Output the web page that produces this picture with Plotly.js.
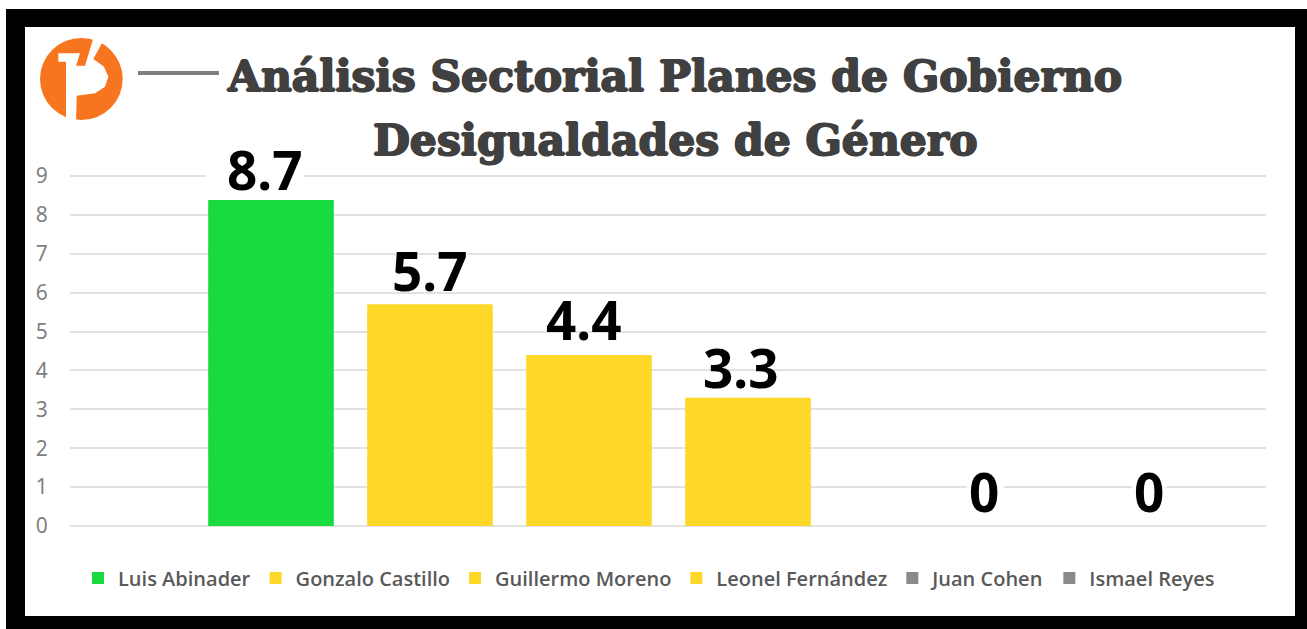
<!DOCTYPE html>
<html>
<head>
<meta charset="utf-8">
<script src="https://cdn.plot.ly/plotly-3.0.1.min.js"></script>
<style>html,body{margin:0;padding:0;background:#fff}#chart{width:1307px;height:629px}</style>
</head>
<body>
<div id="chart"></div>
<script>
const candidates = ['Luis Abinader','Gonzalo Castillo','Guillermo Moreno','Leonel Fernández','Juan Cohen','Ismael Reyes'];
const barValues = [8.38,5.7,4.4,3.3,0,0];
const valueLabels = ['8.7','5.7','4.4','3.3','0','0'];
const barColors = ['#17db3f','#fed829','#fed829','#fed829','#8a8a8a','#8a8a8a'];
const titleLines = ['Análisis Sectorial Planes de Gobierno','Desigualdades de Género'];
const yTicks = [0,1,2,3,4,5,6,7,8,9];

const W=1307,H=629,L=70,R=1266,T=173,B=529;
const unit=38.89, pad=3/unit;
const px=x=>(x-L)/(R-L), py=y=>(B-y)/(B-T);
const poly=p=>'M'+p.map(q=>px(q[0])+','+py(q[1])).join('L')+'Z';
const z=p=>p.map(q=>[40+q[0]/3,35+q[1]/3]);
const rectShape=(x0,y0,x1,y1,c)=>({type:'rect',xref:'paper',yref:'paper',layer:'below',x0:px(x0),x1:px(x1),y0:py(y0),y1:py(y1),fillcolor:c,line:{width:0}});
const step=159, x0cat=271;
const heavy='1px 0 0 #404040,-1px 0 0 #404040,0 1px 0 #404040,0 -1px 0 #404040';

const traces=candidates.map((c,i)=>({
  type:'bar',name:c,x:[c],y:[barValues[i]],width:[0.79],
  marker:{color:barColors[i],line:{width:0}},hoverinfo:'skip'
}));

const gridGap=(cx,cy,w)=>({xref:'paper',yref:'paper',x:px(cx),y:py(cy),xanchor:'center',yanchor:'middle',showarrow:false,
  text:'&nbsp;',width:w,height:8,bgcolor:'#fff',borderpad:0,font:{size:6}});
const labelShifts=[-6,0,-5,-7,77,83];
const labelRaise=[28,31,33,28,32,32];
const annotations=[gridGap(254,176,97),gridGap(985,487,36),gridGap(1149,487,33)];
candidates.forEach((c,i)=>annotations.push({
  x:c,y:barValues[i],xref:'x',yref:'y',xanchor:'center',yanchor:'bottom',
  xshift:labelShifts[i],yshift:labelRaise[i]-35,text:valueLabels[i],showarrow:false,
  font:{family:'Noto Sans',size:53,weight:700,color:'#000'},borderpad:0
}));
annotations.push({xref:'paper',yref:'paper',x:px(675),y:py(140),xanchor:'center',yanchor:'middle',showarrow:false,
  text:'<b>'+titleLines[1]+'</b>',font:{family:'DejaVu Serif',size:42.5,color:'#404040',shadow:heavy}});

const shapes=[
  rectShape(6,9,W,H,'#000'),
  rectShape(25,27,1295,616,'#fff'),
  rectShape(138,71,219,75,'#808080'),
  {type:'circle',xref:'paper',yref:'paper',layer:'below',x0:px(40),x1:px(122.7),y0:py(120),y1:py(38),fillcolor:'#f7751e',line:{width:0}},
  {type:'path',xref:'paper',yref:'paper',layer:'below',path:poly(z([[160,10],[188,20],[160,72],[192,95],[205,125],[195,155],[165,175],[110,182],[108,270],[78,270],[78,80],[55,80],[55,55],[120,55],[108,92],[135,92]])),fillcolor:'#fff',line:{width:0}}
];

const layout={
  width:W,height:H,margin:{l:L,r:W-R,t:T,b:H-B,pad:0},
  paper_bgcolor:'#fff',plot_bgcolor:'rgba(0,0,0,0)',
  barmode:'overlay',showlegend:true,
  title:{text:'<b>'+titleLines[0]+'</b>',x:675/W,xref:'container',xanchor:'center',y:1-76/H,yref:'container',yanchor:'middle',
    font:{family:'DejaVu Serif',size:42.5,color:'#404040',shadow:heavy}},
  xaxis:{type:'category',categoryorder:'array',categoryarray:candidates,range:[(L-x0cat)/step,(R-x0cat)/step],
    showticklabels:false,showgrid:false,zeroline:false,ticks:'',showline:false,fixedrange:true},
  yaxis:{range:[-pad,9+pad],tickvals:yTicks,ticktext:yTicks.map(String),showgrid:true,gridcolor:'#e2e2e2',gridwidth:2,zeroline:false,showline:false,
    ticks:'outside',ticklen:17,tickcolor:'rgba(0,0,0,0)',tickfont:{family:'Noto Sans',size:21,color:'#7f7f7f'},fixedrange:true},
  legend:{orientation:'h',x:px(78),xanchor:'left',y:py(578),yanchor:'middle',bgcolor:'rgba(0,0,0,0)',itemwidth:30,traceorder:'normal',
    font:{family:'Open Sans',size:20,weight:600,color:'#595959'}},
  annotations,shapes
};
Plotly.newPlot('chart',traces,layout,{displayModeBar:false,staticPlot:true});
</script>
</body>
</html>
